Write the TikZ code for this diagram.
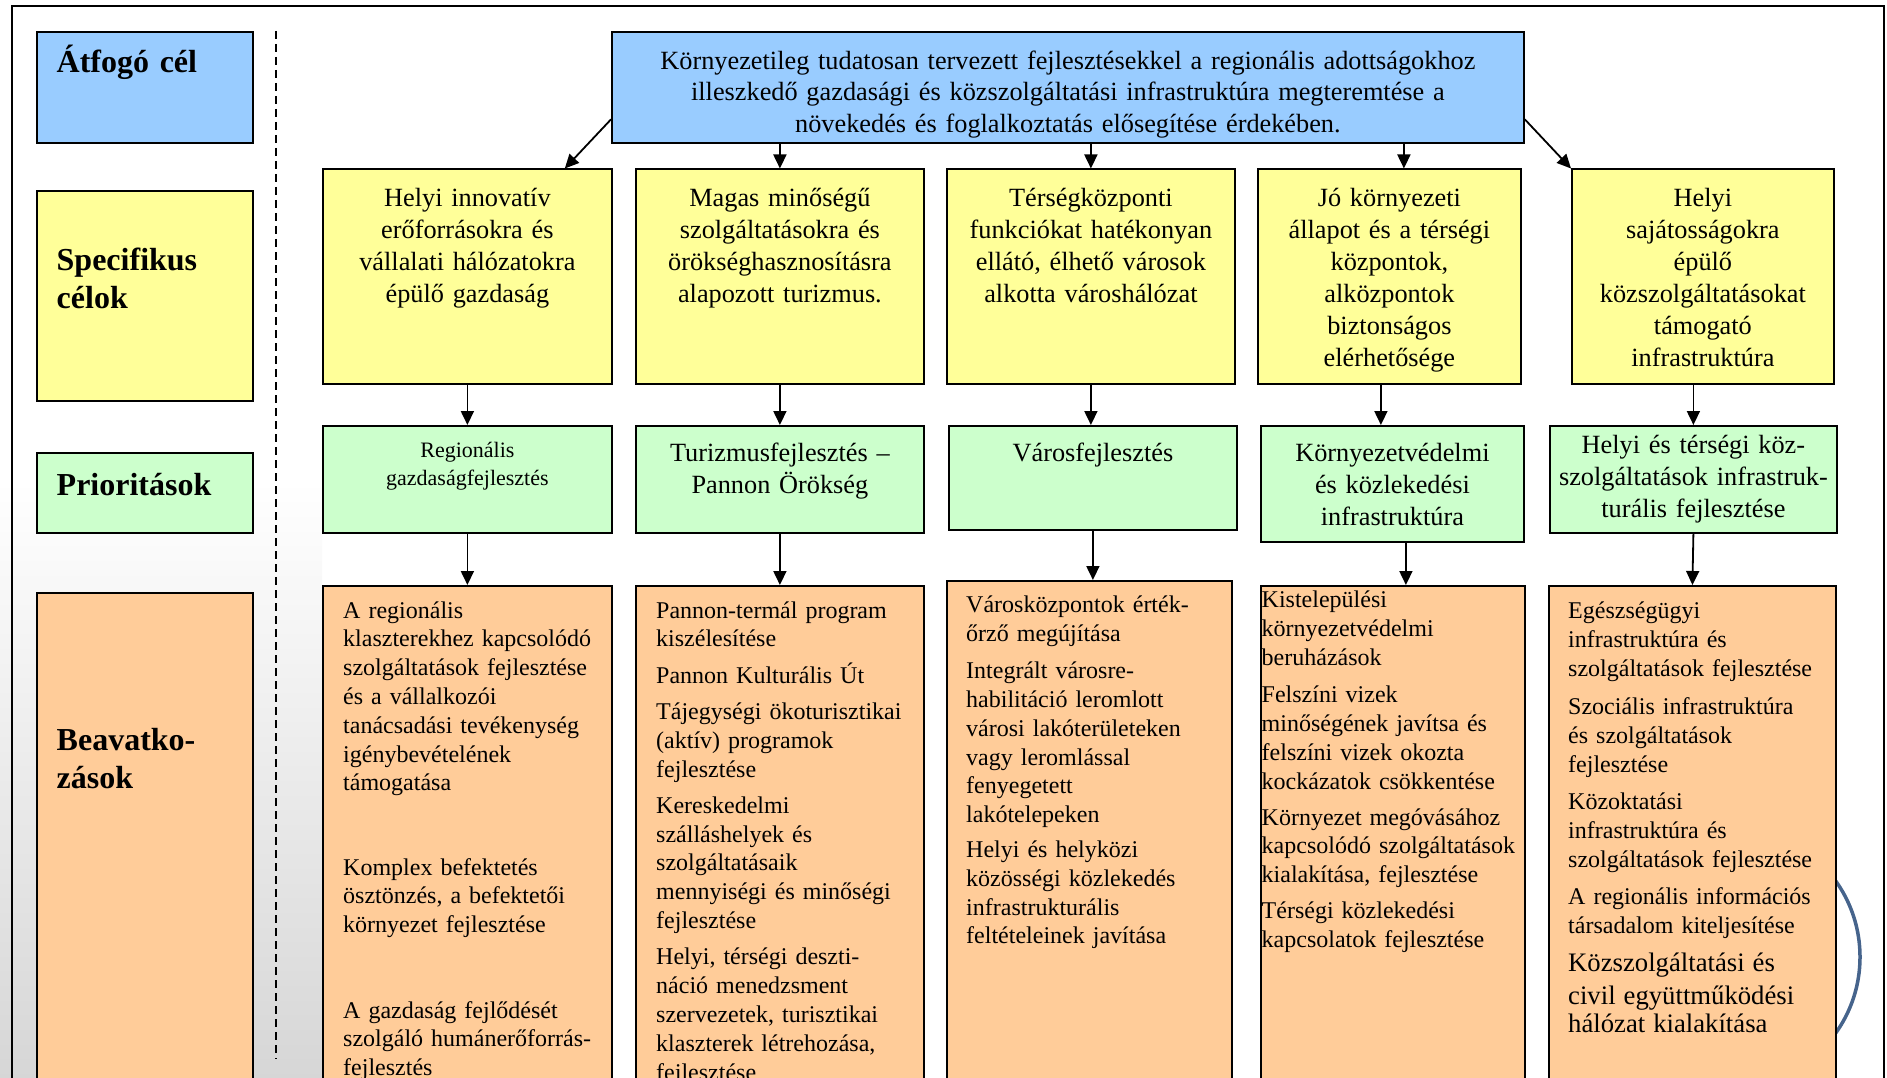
\documentclass[tikz,border=0pt]{standalone}
\usepackage{fontspec}
\setmainfont{Liberation Serif}
\usepackage{xcolor}
\usetikzlibrary{arrows.meta,positioning}

\definecolor{goalblue}{RGB}{153,204,255}
\definecolor{specyellow}{RGB}{255,255,153}
\definecolor{priogreen}{RGB}{204,255,204}
\definecolor{actorange}{RGB}{255,204,153}
\definecolor{sealblue}{RGB}{70,100,140}

\tikzstyle{box} = [rectangle, draw, line width=1.8pt, anchor=north west, inner sep=0pt]
\tikzstyle{goal} = [box, fill=goalblue]
\tikzstyle{spec} = [box, fill=specyellow]
\tikzstyle{prio} = [box, fill=priogreen]
\tikzstyle{act} = [box, fill=actorange]
\tikzstyle{line} = [draw, line width=1.8pt, -{Triangle[length=14pt,width=13pt]}]
\tikzstyle{head} = [inner sep=0pt, anchor=base west, text width=200pt, align=left,
    font=\fontsize{32}{38}\selectfont\bfseries]
\tikzstyle{ctext} = [inner sep=0pt, anchor=base, text width=300pt, align=center,
    font=\fontsize{26.3}{32}\selectfont]
\tikzstyle{ltext} = [inner sep=0pt, anchor=base west, text width=300pt, align=left,
    font=\fontsize{24}{28.8}\selectfont]

\begin{document}
\begin{tikzpicture}[x=1pt, y=-1pt]
    \useasboundingbox (0,0) rectangle (1887,1078);
    % Background, frame, separator, seal
    \shade[top color=white, middle color=black!7, bottom color=black!16] (0,480) rectangle (322,1078);
    \draw[line width=1.8pt] (12,1100) -- (12,6) -- (1884,6) -- (1884,1100);
    \draw[line width=1.8pt, dash pattern=on 8pt off 5pt] (276,31) -- (276,1059);
    \draw[sealblue, line width=3.5pt] (1729,957) circle[radius=131pt];

    % Place row labels
    \node [goal, minimum width=216pt, minimum height=111pt] (lab1) at (36,31) {};
    \node [spec, minimum width=216pt, minimum height=210pt] (lab2) at (36,190) {};
    \node [prio, minimum width=216pt, minimum height=80pt] (lab3) at (36,452) {};
    \node [act, minimum width=216pt, minimum height=520pt] (lab4) at (36,592) {};
    \node [head, xshift=20.5pt, yshift=-42pt] (lab1t) at (lab1.north west) {Átfogó cél};
    \node [head, xshift=20.5pt, yshift=-80pt] (lab2t) at (lab2.north west) {Specifikus\\ célok};
    \node [head, xshift=20.5pt, yshift=-43pt] (lab3t) at (lab3.north west) {Prioritások};
    \node [head, xshift=20.5pt, yshift=-158pt] (lab4t) at (lab4.north west) {Beavatko-\\ zások};

    % Place boxes
    \node [goal, minimum width=912pt, minimum height=111pt] (top) at (611,31) {};
    \node [spec, minimum width=289pt, minimum height=214.5pt] (y1) at (322,168.5) {};
    \node [spec, minimum width=288pt, minimum height=214.5pt] (y2) at (635,168.5) {};
    \node [spec, minimum width=288pt, minimum height=214.5pt] (y3) at (946,168.5) {};
    \node [spec, minimum width=263pt, minimum height=214.5pt] (y4) at (1257,168.5) {};
    \node [spec, minimum width=262pt, minimum height=214.5pt] (y5) at (1571,168.5) {};
    \node [prio, minimum width=289pt, minimum height=107pt] (g1) at (322,425) {};
    \node [prio, minimum width=288pt, minimum height=107pt] (g2) at (635,425) {};
    \node [prio, minimum width=288pt, minimum height=104pt] (g3) at (948,425) {};
    \node [prio, minimum width=263pt, minimum height=116pt] (g4) at (1260,425) {};
    \node [prio, minimum width=287pt, minimum height=107pt] (g5) at (1549,425) {};
    \node [act, minimum width=289pt, minimum height=520pt] (o1) at (322,585) {};
    \node [act, minimum width=288pt, minimum height=520pt] (o2) at (635,585) {};
    \node [act, minimum width=285pt, minimum height=525pt] (o3) at (946,580) {};
    \node [act, minimum width=264pt, minimum height=520pt] (o4) at (1260,585) {};
    \node [act, minimum width=287pt, minimum height=520pt] (o5) at (1548,585) {};

    % Draw edges
    \path [line] (top.184) -- (y1.48);
    \path [line] (top.south -| y2.north) -- (y2.north);
    \path [line] (top.south -| y3.north) -- (y3.north);
    \path [line] ([xshift=14.5pt]top.south -| y4.north) -- ([xshift=14.5pt]y4.north);
    \path [line] (top.-4) -- (y5.north west);
    \path [line] (y1.south) -- (g1.north);
    \path [line] (y2.south) -- (g2.north);
    \path [line] (y3.south) -- (y3.south |- g3.north);
    \path [line] ([xshift=-8.5pt]y4.south) -- ([xshift=-8.5pt]y4.south |- g4.north);
    \path [line] (y5.south -| g5.north) -- (g5.north);
    \path [line] (g1.south) -- (o1.north);
    \path [line] (g2.south) -- (o2.north);
    \path [line] (g3.south) -- (g3.south |- o3.north);
    \path [line] ([xshift=13.5pt]g4.south) -- ([xshift=13.5pt]g4.south |- o4.north);
    \path [line] (g5.south) -- (o5.north);

    % Texts
    \node [ctext, text width=900pt, font=\fontsize{26.3}{31.3}\selectfont, yshift=-38.5pt] (topt) at (top.north)
        {Környezetileg tudatosan tervezett fejlesztésekkel a regionális adottságokhoz\\
         illeszkedő gazdasági és közszolgáltatási infrastruktúra megteremtése a\\
         növekedés és foglalkoztatás elősegítése érdekében.};
    \node [ctext, yshift=-38pt] (y1t) at (y1.north)
        {Helyi innovatív\\ erőforrásokra és\\ vállalati hálózatokra\\ épülő gazdaság};
    \node [ctext, yshift=-38pt] (y2t) at (y2.north)
        {Magas minőségű\\ szolgáltatásokra és\\ örökséghasznosításra\\ alapozott turizmus.};
    \node [ctext, yshift=-38pt] (y3t) at (y3.north)
        {Térségközponti\\ funkciókat hatékonyan\\ ellátó, élhető városok\\ alkotta városhálózat};
    \node [ctext, yshift=-38pt] (y4t) at (y4.north)
        {Jó környezeti\\ állapot és a térségi\\ központok,\\ alközpontok\\ biztonságos\\ elérhetősége};
    \node [ctext, yshift=-38pt] (y5t) at (y5.north)
        {Helyi\\ sajátosságokra\\ épülő\\ közszolgáltatásokat\\ támogató\\ infrastruktúra};
    \node [ctext, font=\fontsize{22}{27.7}\selectfont, yshift=-32.6pt] (g1t) at (g1.north)
        {Regionális\\ gazdaságfejlesztés};
    \node [ctext, yshift=-36.7pt] (g2t) at (g2.north) {Turizmusfejlesztés –\\ Pannon Örökség};
    \node [ctext, yshift=-36.7pt] (g3t) at (g3.north) {Városfejlesztés};
    \node [ctext, yshift=-36.7pt] (g4t) at (g4.north)
        {Környezetvédelmi\\ és közlekedési\\ infrastruktúra};
    \node [ctext, yshift=-28pt] (g5t) at (g5.north)
        {Helyi és térségi köz-\\ szolgáltatások infrastruk-\\ turális fejlesztése};

    \node [ltext, xshift=21pt, yshift=-33pt] (o1t) at (o1.north west)
        {A regionális\\ klaszterekhez kapcsolódó\\ szolgáltatások fejlesztése\\ és a vállalkozói\\
         tanácsadási tevékenység\\ igénybevételének\\ támogatása\\[55.5pt]
         Komplex befektetés\\ ösztönzés, a befektetői\\ környezet fejlesztése\\[56.5pt]
         A gazdaság fejlődését\\ szolgáló humánerőforrás-\\ fejlesztés};
    \node [ltext, xshift=21pt, yshift=-33pt] (o2t) at (o2.north west)
        {Pannon-termál program\\ kiszélesítése\\[7.5pt]
         Pannon Kulturális Út\\[7.5pt]
         Tájegységi ökoturisztikai\\ (aktív) programok\\ fejlesztése\\[7.5pt]
         Kereskedelmi\\ szálláshelyek és\\ szolgáltatásaik\\ mennyiségi és minőségi\\ fejlesztése\\[7.5pt]
         Helyi, térségi deszti-\\ náció menedzsment\\ szervezetek, turisztikai\\ klaszterek létrehozása,\\ fejlesztése};
    \node [ltext, xshift=20pt, yshift=-32.5pt] (o3t) at (o3.north west)
        {Városközpontok érték-\\ őrző megújítása\\[8.5pt]
         Integrált városre-\\ habilitáció leromlott\\ városi lakóterületeken\\ vagy leromlással\\ fenyegetett\\ lakótelepeken\\[6pt]
         Helyi és helyközi\\ közösségi közlekedés\\ infrastrukturális\\ feltételeinek javítása};
    \node [ltext, xshift=1.5pt, yshift=-22.7pt] (o4t) at (o4.north west)
        {Kistelepülési\\ környezetvédelmi\\ beruházások\\[8.5pt]
         Felszíni vizek\\ minőségének javítsa és\\ felszíni vizek okozta\\ kockázatok csökkentése\\[7.3pt]
         Környezet megóvásához\\ kapcsolódó szolgáltatások\\ kialakítása, fejlesztése\\[7.3pt]
         Térségi közlekedési\\ kapcsolatok fejlesztése};
    \node [ltext, xshift=20pt, yshift=-33.5pt] (o5t) at (o5.north west)
        {Egészségügyi\\ infrastruktúra és\\ szolgáltatások fejlesztése\\[9.7pt]
         Szociális infrastruktúra\\ és szolgáltatások\\ fejlesztése\\[8.5pt]
         Közoktatási\\ infrastruktúra és\\ szolgáltatások fejlesztése\\[8.5pt]
         A regionális információs\\ társadalom kiteljesítése\par\vspace{5.8pt}
         \fontsize{26.7}{32.5}\selectfont Közszolgáltatási és\\ civil együttműködési\\ hálózat kialakítása};
\end{tikzpicture}
\end{document}
